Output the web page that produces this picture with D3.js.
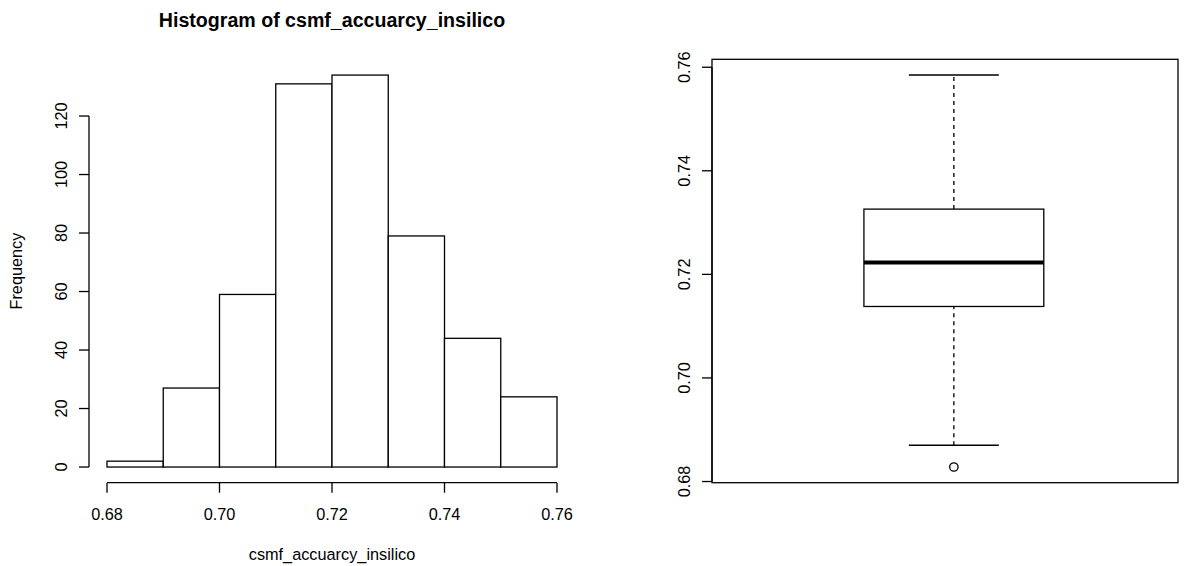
<!DOCTYPE html>
<html>
<head>
<meta charset="utf-8">
<script src="https://cdn.jsdelivr.net/npm/d3@7"></script>
<style>
  body { margin: 0; background: #fff; }
  svg { display: block; }
  text { font-family: "Liberation Sans", Arial, Helvetica, sans-serif; fill: #000; }
</style>
</head>
<body>
<svg id="chart" width="1192" height="566"></svg>
<script>
// ---- data ----
const varName = "csmf_accuarcy_insilico";
const binStarts = [0.68, 0.69, 0.70, 0.71, 0.72, 0.73, 0.74, 0.75];
const binWidth = 0.01;
const binCounts = [2, 27, 59, 131, 134, 79, 44, 24];
const histXTicks = [0.68, 0.70, 0.72, 0.74, 0.76];
const histYTicks = [0, 20, 40, 60, 80, 100, 120];

// five-number summary: lower whisker, Q1, median, Q3, upper whisker
const boxFive = [0.6870, 0.7138, 0.7223, 0.7326, 0.7585];
const boxOutliers = [0.6828];
const boxYTicks = [0.68, 0.70, 0.72, 0.74, 0.76];

// ---- helpers ----
const svg = d3.select("#chart");
const LW = 1.3;
const baseFont = 16.3;

// R-style 4% axis extension
function extend(lo, hi) {
  const pad = (hi - lo) * 0.04;
  return [lo - pad, hi + pad];
}

function bottomAxis(g, scale, ticks, yLine, fmt) {
  g.append("line")
    .attr("x1", scale(ticks[0])).attr("x2", scale(ticks[ticks.length - 1]))
    .attr("y1", yLine).attr("y2", yLine)
    .attr("stroke", "#000").attr("stroke-width", LW);
  g.selectAll(null).data(ticks).join("line")
    .attr("x1", d => scale(d)).attr("x2", d => scale(d))
    .attr("y1", yLine).attr("y2", yLine + 10)
    .attr("stroke", "#000").attr("stroke-width", LW);
  g.selectAll(null).data(ticks).join("text")
    .attr("x", d => scale(d)).attr("y", yLine + 37)
    .attr("text-anchor", "middle")
    .style("font-size", baseFont + "px")
    .text(fmt);
}

function leftAxis(g, scale, ticks, xLine, fmt) {
  g.append("line")
    .attr("y1", scale(ticks[0])).attr("y2", scale(ticks[ticks.length - 1]))
    .attr("x1", xLine).attr("x2", xLine)
    .attr("stroke", "#000").attr("stroke-width", LW);
  g.selectAll(null).data(ticks).join("line")
    .attr("y1", d => scale(d)).attr("y2", d => scale(d))
    .attr("x1", xLine - 10).attr("x2", xLine)
    .attr("stroke", "#000").attr("stroke-width", LW);
  g.selectAll(null).data(ticks).join("text")
    .attr("transform", d => `translate(${xLine - 22.5},${scale(d)}) rotate(-90)`)
    .attr("text-anchor", "middle")
    .style("font-size", baseFont + "px")
    .text(fmt);
}

// ---- histogram ----
const hist = { left: 89, right: 575, top: 59.4, bottom: 482.7 };
const hx = d3.scaleLinear()
  .domain(extend(binStarts[0], binStarts[binStarts.length - 1] + binWidth))
  .range([hist.left, hist.right]);
const hy = d3.scaleLinear()
  .domain(extend(0, d3.max(binCounts)))
  .range([hist.bottom, hist.top]);

const gh = svg.append("g");
gh.selectAll("rect.bar").data(binStarts).join("rect")
  .attr("class", "bar")
  .attr("x", d => hx(d))
  .attr("width", d => hx(d + binWidth) - hx(d))
  .attr("y", (d, i) => hy(binCounts[i]))
  .attr("height", (d, i) => hy(0) - hy(binCounts[i]))
  .attr("fill", "#fff").attr("stroke", "#000").attr("stroke-width", LW);

bottomAxis(gh, hx, histXTicks, hist.bottom, d3.format(".2f"));
leftAxis(gh, hy, histYTicks, hist.left, d => d);

gh.append("text")
  .attr("x", (hist.left + hist.right) / 2).attr("y", 27)
  .attr("text-anchor", "middle")
  .style("font-size", "19.6px").style("font-weight", "bold")
  .text("Histogram of " + varName);
gh.append("text")
  .attr("x", (hist.left + hist.right) / 2).attr("y", 560)
  .attr("text-anchor", "middle")
  .style("font-size", baseFont + "px")
  .text(varName);
gh.append("text")
  .attr("transform", `translate(22,${(hist.top + hist.bottom) / 2}) rotate(-90)`)
  .attr("text-anchor", "middle")
  .style("font-size", baseFont + "px")
  .text("Frequency");

// ---- boxplot ----
const bp = { left: 712, right: 1178, top: 59.3, bottom: 482.7 };
const allVals = boxFive.concat(boxOutliers);
const by = d3.scaleLinear()
  .domain(extend(d3.min(allVals), d3.max(allVals)))
  .range([bp.bottom, bp.top]);
// horizontal position of the single box, in plot units
const bx = d3.scaleLinear().domain([0, 1]).range([bp.left, bp.right]);
const boxPos = 0.519, boxHalf = 0.193, capHalf = 0.0965;

const gb = svg.append("g");
gb.append("rect")
  .attr("x", bp.left).attr("y", bp.top)
  .attr("width", bp.right - bp.left).attr("height", bp.bottom - bp.top)
  .attr("fill", "none").attr("stroke", "#000").attr("stroke-width", LW);

const [wLo, q1, med, q3, wHi] = boxFive;
// whiskers
gb.selectAll("line.whisker").data([[wLo, q1], [q3, wHi]]).join("line")
  .attr("class", "whisker")
  .attr("x1", bx(boxPos)).attr("x2", bx(boxPos))
  .attr("y1", d => by(d[0])).attr("y2", d => by(d[1]))
  .attr("stroke", "#000").attr("stroke-width", LW)
  .attr("stroke-dasharray", "4,4");
gb.selectAll("line.cap").data([wLo, wHi]).join("line")
  .attr("class", "cap")
  .attr("x1", bx(boxPos - capHalf)).attr("x2", bx(boxPos + capHalf))
  .attr("y1", d => by(d)).attr("y2", d => by(d))
  .attr("stroke", "#000").attr("stroke-width", LW);
// box
gb.append("rect")
  .attr("x", bx(boxPos - boxHalf)).attr("width", bx(boxPos + boxHalf) - bx(boxPos - boxHalf))
  .attr("y", by(q3)).attr("height", by(q1) - by(q3))
  .attr("fill", "#fff").attr("stroke", "#000").attr("stroke-width", LW);
gb.append("line")
  .attr("x1", bx(boxPos - boxHalf)).attr("x2", bx(boxPos + boxHalf))
  .attr("y1", by(med)).attr("y2", by(med))
  .attr("stroke", "#000").attr("stroke-width", 4);
// outliers
gb.selectAll("circle").data(boxOutliers).join("circle")
  .attr("cx", bx(boxPos)).attr("cy", d => by(d)).attr("r", 4.2)
  .attr("fill", "none").attr("stroke", "#000").attr("stroke-width", LW);

leftAxis(gb, by, boxYTicks, bp.left, d3.format(".2f"));
</script>
</body>
</html>
